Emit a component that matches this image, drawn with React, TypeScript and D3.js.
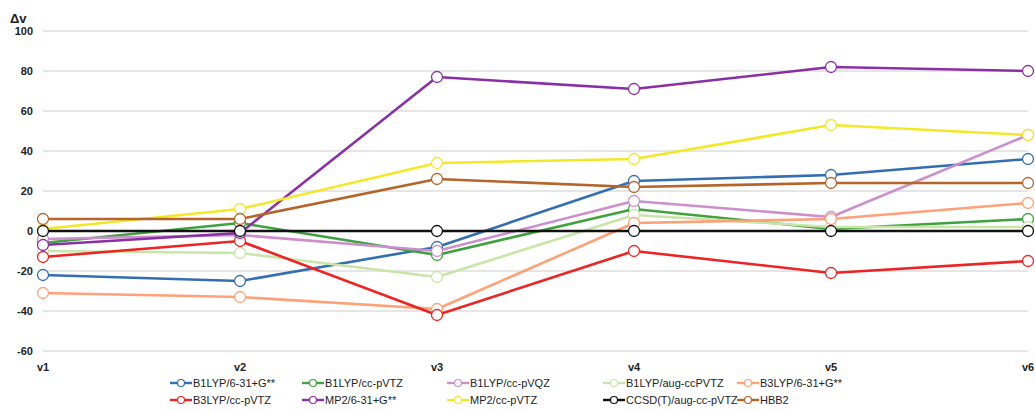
import React from "react";
import * as d3 from "d3";

const categories = ["v1", "v2", "v3", "v4", "v5", "v6"];
const yTicks = [-60, -40, -20, 0, 20, 40, 60, 80, 100];

const seriesNames = [
  "B1LYP/6-31+G**",
  "B1LYP/cc-pVTZ",
  "B1LYP/cc-pVQZ",
  "B1LYP/aug-ccPVTZ",
  "B3LYP/6-31+G**",
  "B3LYP/cc-pVTZ",
  "MP2/6-31+G**",
  "MP2/cc-pVTZ",
  "CCSD(T)/aug-cc-pVTZ",
  "HBB2",
];
const seriesColors = [
  "#336eb3",
  "#3fa23f",
  "#cc8fcc",
  "#c9e5a9",
  "#ffa077",
  "#ee2424",
  "#8a2fa6",
  "#f2e826",
  "#111111",
  "#b5642a",
];

const b1lyp631 = [-22, -25, -8, 25, 28, 36];
const b1lypVTZ = [-6, 4, -12, 11, 1, 6];
const b1lypVQZ = [-4, -2, -10, 15, 7, 48];
const b1lypAug = [-10, -11, -23, 8, 2, 2];
const b3lyp631 = [-31, -33, -39, 4, 6, 14];
const b3lypVTZ = [-13, -5, -42, -10, -21, -15];
const mp2631 = [-7, -1, 77, 71, 82, 80];
const mp2VTZ = [1, 11, 34, 36, 53, 48];
const ccsdt = [0, 0, 0, 0, 0, 0];
const hbb2 = [6, 6, 26, 22, 24, 24];

const seriesValues = [
  b1lyp631,
  b1lypVTZ,
  b1lypVQZ,
  b1lypAug,
  b3lyp631,
  b3lypVTZ,
  mp2631,
  mp2VTZ,
  ccsdt,
  hbb2,
];

const W = 1035;
const H = 412;
const FONT = "'Liberation Sans', Arial, Helvetica, sans-serif";

export default function App() {
  const x = d3.scalePoint<string>().domain(categories).range([43, 1028]);
  const y = d3.scaleLinear().domain([-60, 100]).range([351, 31]);
  const line = d3
    .line<number>()
    .x((_, i) => x(categories[i]) as number)
    .y((d) => y(d));

  const legendCols = [170, 302, 447, 603, 737];
  const legendRows = [383, 400];

  return (
    <svg
      width={W}
      height={H}
      style={{ position: "absolute", left: 0, top: 0, background: "#fff" }}
      fontFamily={FONT}
    >
      <rect x={0} y={0} width={W} height={H} fill="#fff" />
      {yTicks.map((t) => (
        <g key={t}>
          <line
            x1={43}
            x2={1028}
            y1={y(t)}
            y2={y(t)}
            stroke="#cccccc"
            strokeWidth={1}
          />
          <text
            x={33}
            y={y(t)}
            dy="0.35em"
            textAnchor="end"
            fontSize={11}
            fontWeight="bold"
            fill="#222"
          >
            {t}
          </text>
        </g>
      ))}
      <text x={10} y={23} fontSize={13} fontWeight="bold" fill="#222">
        Δv
      </text>
      {categories.map((c) => (
        <text
          key={c}
          x={x(c) as number}
          y={371}
          textAnchor="middle"
          fontSize={11}
          fontWeight="bold"
          fill="#222"
        >
          {c}
        </text>
      ))}
      {seriesValues.map((vals, si) => (
        <g key={seriesNames[si]}>
          <path
            d={line(vals) || ""}
            fill="none"
            stroke={seriesColors[si]}
            strokeWidth={2.6}
            strokeLinejoin="round"
          />
          {vals.map((v, i) => (
            <circle
              key={i}
              cx={x(categories[i]) as number}
              cy={y(v)}
              r={5.5}
              fill="#fff"
              stroke={seriesColors[si]}
              strokeWidth={1.3}
            />
          ))}
        </g>
      ))}
      {seriesNames.map((name, si) => {
        const lx = legendCols[si % 5];
        const ly = legendRows[Math.floor(si / 5)];
        return (
          <g key={name}>
            <line
              x1={lx}
              x2={lx + 22}
              y1={ly}
              y2={ly}
              stroke={seriesColors[si]}
              strokeWidth={2.4}
            />
            <circle
              cx={lx + 11}
              cy={ly}
              r={3.5}
              fill="#fff"
              stroke={seriesColors[si]}
              strokeWidth={1.2}
            />
            <text x={lx + 23} y={ly} dy="0.35em" fontSize={11} fill="#222">
              {name}
            </text>
          </g>
        );
      })}
    </svg>
  );
}
